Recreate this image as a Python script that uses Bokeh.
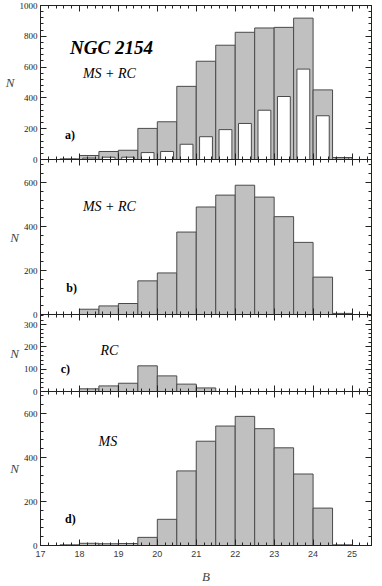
from bokeh.plotting import figure
from bokeh.layouts import column
from bokeh.models import Range1d, LinearAxis, FixedTicker, Label
from bokeh.embed import file_html
from bokeh.resources import INLINE

# ---- data (B magnitude bins, 0.5 mag wide) ----
bin_centers = [17.75, 18.25, 18.75, 19.25, 19.75, 20.25, 20.75, 21.25,
               21.75, 22.25, 22.75, 23.25, 23.75, 24.25, 24.75]
bin_width = 0.5
a_all = [4, 26, 52, 60, 202, 245, 475, 638, 742, 826, 854, 858, 918, 452, 13]
a_sub = [2, 9, 15, 15, 45, 52, 99, 148, 194, 234, 320, 409, 587, 284, 10]
b_ms_rc = [0, 24, 39, 50, 153, 189, 375, 489, 543, 588, 534, 445, 328, 170, 5]
c_rc = [0, 12, 25, 37, 115, 70, 33, 16, 0, 0, 0, 0, 0, 0, 0]
d_ms = [3, 10, 8, 9, 37, 119, 339, 474, 543, 587, 531, 444, 325, 170, 3]
x_tick_labels = [17, 18, 19, 20, 21, 22, 23, 24, 25]

SERIF = "Liberation Serif"
SANS = "Liberation Sans"
FILL = "#c0c0c0"
EDGE = "#4a4a4a"
AX = "#222222"
X0, X1 = 17, 25.5
FRAME_W = 331
OVER = 6  # room under each upper panel for its "0" label

x_major = x_tick_labels
x_minor = [round(X0 + 0.2 * i, 1) for i in range(int((X1 - X0) / 0.2) + 1)]


def base_axis(ax, major_len, minor_len):
    ax.major_tick_in = major_len
    ax.major_tick_out = 0
    ax.minor_tick_in = minor_len
    ax.minor_tick_out = 0
    ax.axis_line_color = AX
    ax.major_tick_line_color = AX
    ax.minor_tick_line_color = AX


def tick_only(p, side, majors, minors):
    # two label-free axes on the same edge: short ticks, then long ticks
    for pos, ln in ((minors, 3), (majors, 6)):
        ax = LinearAxis(ticker=FixedTicker(ticks=[], minor_ticks=pos))
        base_axis(ax, 0, ln)
        p.add_layout(ax, side)


def make_panel(frame_h, ymax, yint, top_b, bottom_b, first=False, last=False):
    kw = {}
    if not first:
        kw["styles"] = {"margin-top": f"-{OVER}px"}
    p = figure(frame_width=FRAME_W, frame_height=frame_h,
               x_range=Range1d(X0, X1), y_range=Range1d(0, ymax),
               output_backend="svg", toolbar_location=None,
               x_axis_location=None, y_axis_location=None,
               min_border_left=40, min_border_right=3,
               min_border_top=top_b, min_border_bottom=bottom_b, **kw)
    p.grid.visible = False
    p.outline_line_color = AX
    p.background_fill_alpha = 0
    p.border_fill_alpha = 0

    y_major = list(range(0, int(ymax) + 1, yint))
    y_minor = list(range(0, int(ymax) + 1, yint // 5))

    # bottom edge
    if last:
        bottom = LinearAxis(ticker=FixedTicker(ticks=x_major, minor_ticks=x_minor))
        base_axis(bottom, 6, 3)
        bottom.major_label_text_font = SANS
        bottom.major_label_text_font_size = "9px"
        bottom.major_label_text_color = "#3a3a3a"
        bottom.major_label_standoff = 5
        bottom.axis_label = "B"
        bottom.axis_label_text_font = SERIF
        bottom.axis_label_text_font_style = "italic"
        bottom.axis_label_text_font_size = "13px"
        bottom.axis_label_standoff = 9
        p.add_layout(bottom, "below")
    else:
        tick_only(p, "below", x_major, x_minor)

    # top and right edges: ticks only
    tick_only(p, "above", x_major, x_minor)
    tick_only(p, "right", y_major, y_minor)

    # left edge with labels
    left = LinearAxis(ticker=FixedTicker(ticks=y_major, minor_ticks=y_minor))
    base_axis(left, 6, 3)
    left.major_label_text_font = SERIF
    left.major_label_text_font_size = "9px"
    left.major_label_text_color = "#222222"
    left.major_label_standoff = 3
    left.axis_label = "N"
    left.axis_label_orientation = "horizontal"
    left.axis_label_text_font = SERIF
    left.axis_label_text_font_style = "italic"
    left.axis_label_text_font_size = "13px"
    left.axis_label_standoff = 2
    p.add_layout(left, "left")
    return p


def add_text(p, x, y, text, size="14px", style="italic"):
    p.add_layout(Label(x=x, y=y, text=text, text_font=SERIF,
                       text_font_size=size, text_font_style=style,
                       text_baseline="middle", text_align="left",
                       text_color="black"))


# panel a
pa = make_panel(154, 1000, 200, 5, OVER, first=True)
pa.vbar(x=bin_centers, width=bin_width, top=a_all, bottom=0,
        fill_color=FILL, line_color=EDGE, line_width=1)
pa.vbar(x=bin_centers, width=0.33, top=a_sub, bottom=0,
        fill_color="white", line_color=EDGE, line_width=1)
add_text(pa, 17.76, 729, "NGC 2154", size="19px", style="bold italic")
add_text(pa, 18.09, 560, "MS + RC")
add_text(pa, 17.63, 161, "a)", size="12px", style="bold")

# panel b
pb = make_panel(155, 705, 200, 0, OVER)
pb.vbar(x=bin_centers, width=bin_width, top=b_ms_rc, bottom=0,
        fill_color=FILL, line_color=EDGE, line_width=1)
add_text(pb, 18.09, 492, "MS + RC")
add_text(pb, 17.66, 120, "b)", size="12px", style="bold")

# panel c
pc = make_panel(77, 345, 100, 0, OVER)
pc.vbar(x=bin_centers, width=bin_width, top=c_rc, bottom=0,
        fill_color=FILL, line_color=EDGE, line_width=1)
add_text(pc, 18.54, 185, "RC")
add_text(pc, 17.52, 103, "c)", size="12px", style="bold")

# panel d
pd_ = make_panel(154, 700, 200, 0, 33, last=True)
pd_.vbar(x=bin_centers, width=bin_width, top=d_ms, bottom=0,
         fill_color=FILL, line_color=EDGE, line_width=1)
add_text(pd_, 18.49, 473, "MS")
add_text(pd_, 17.63, 121, "d)", size="12px", style="bold")

layout = column(pa, pb, pc, pd_, spacing=0)

open("out.html", "w").write(file_html(layout, INLINE))
